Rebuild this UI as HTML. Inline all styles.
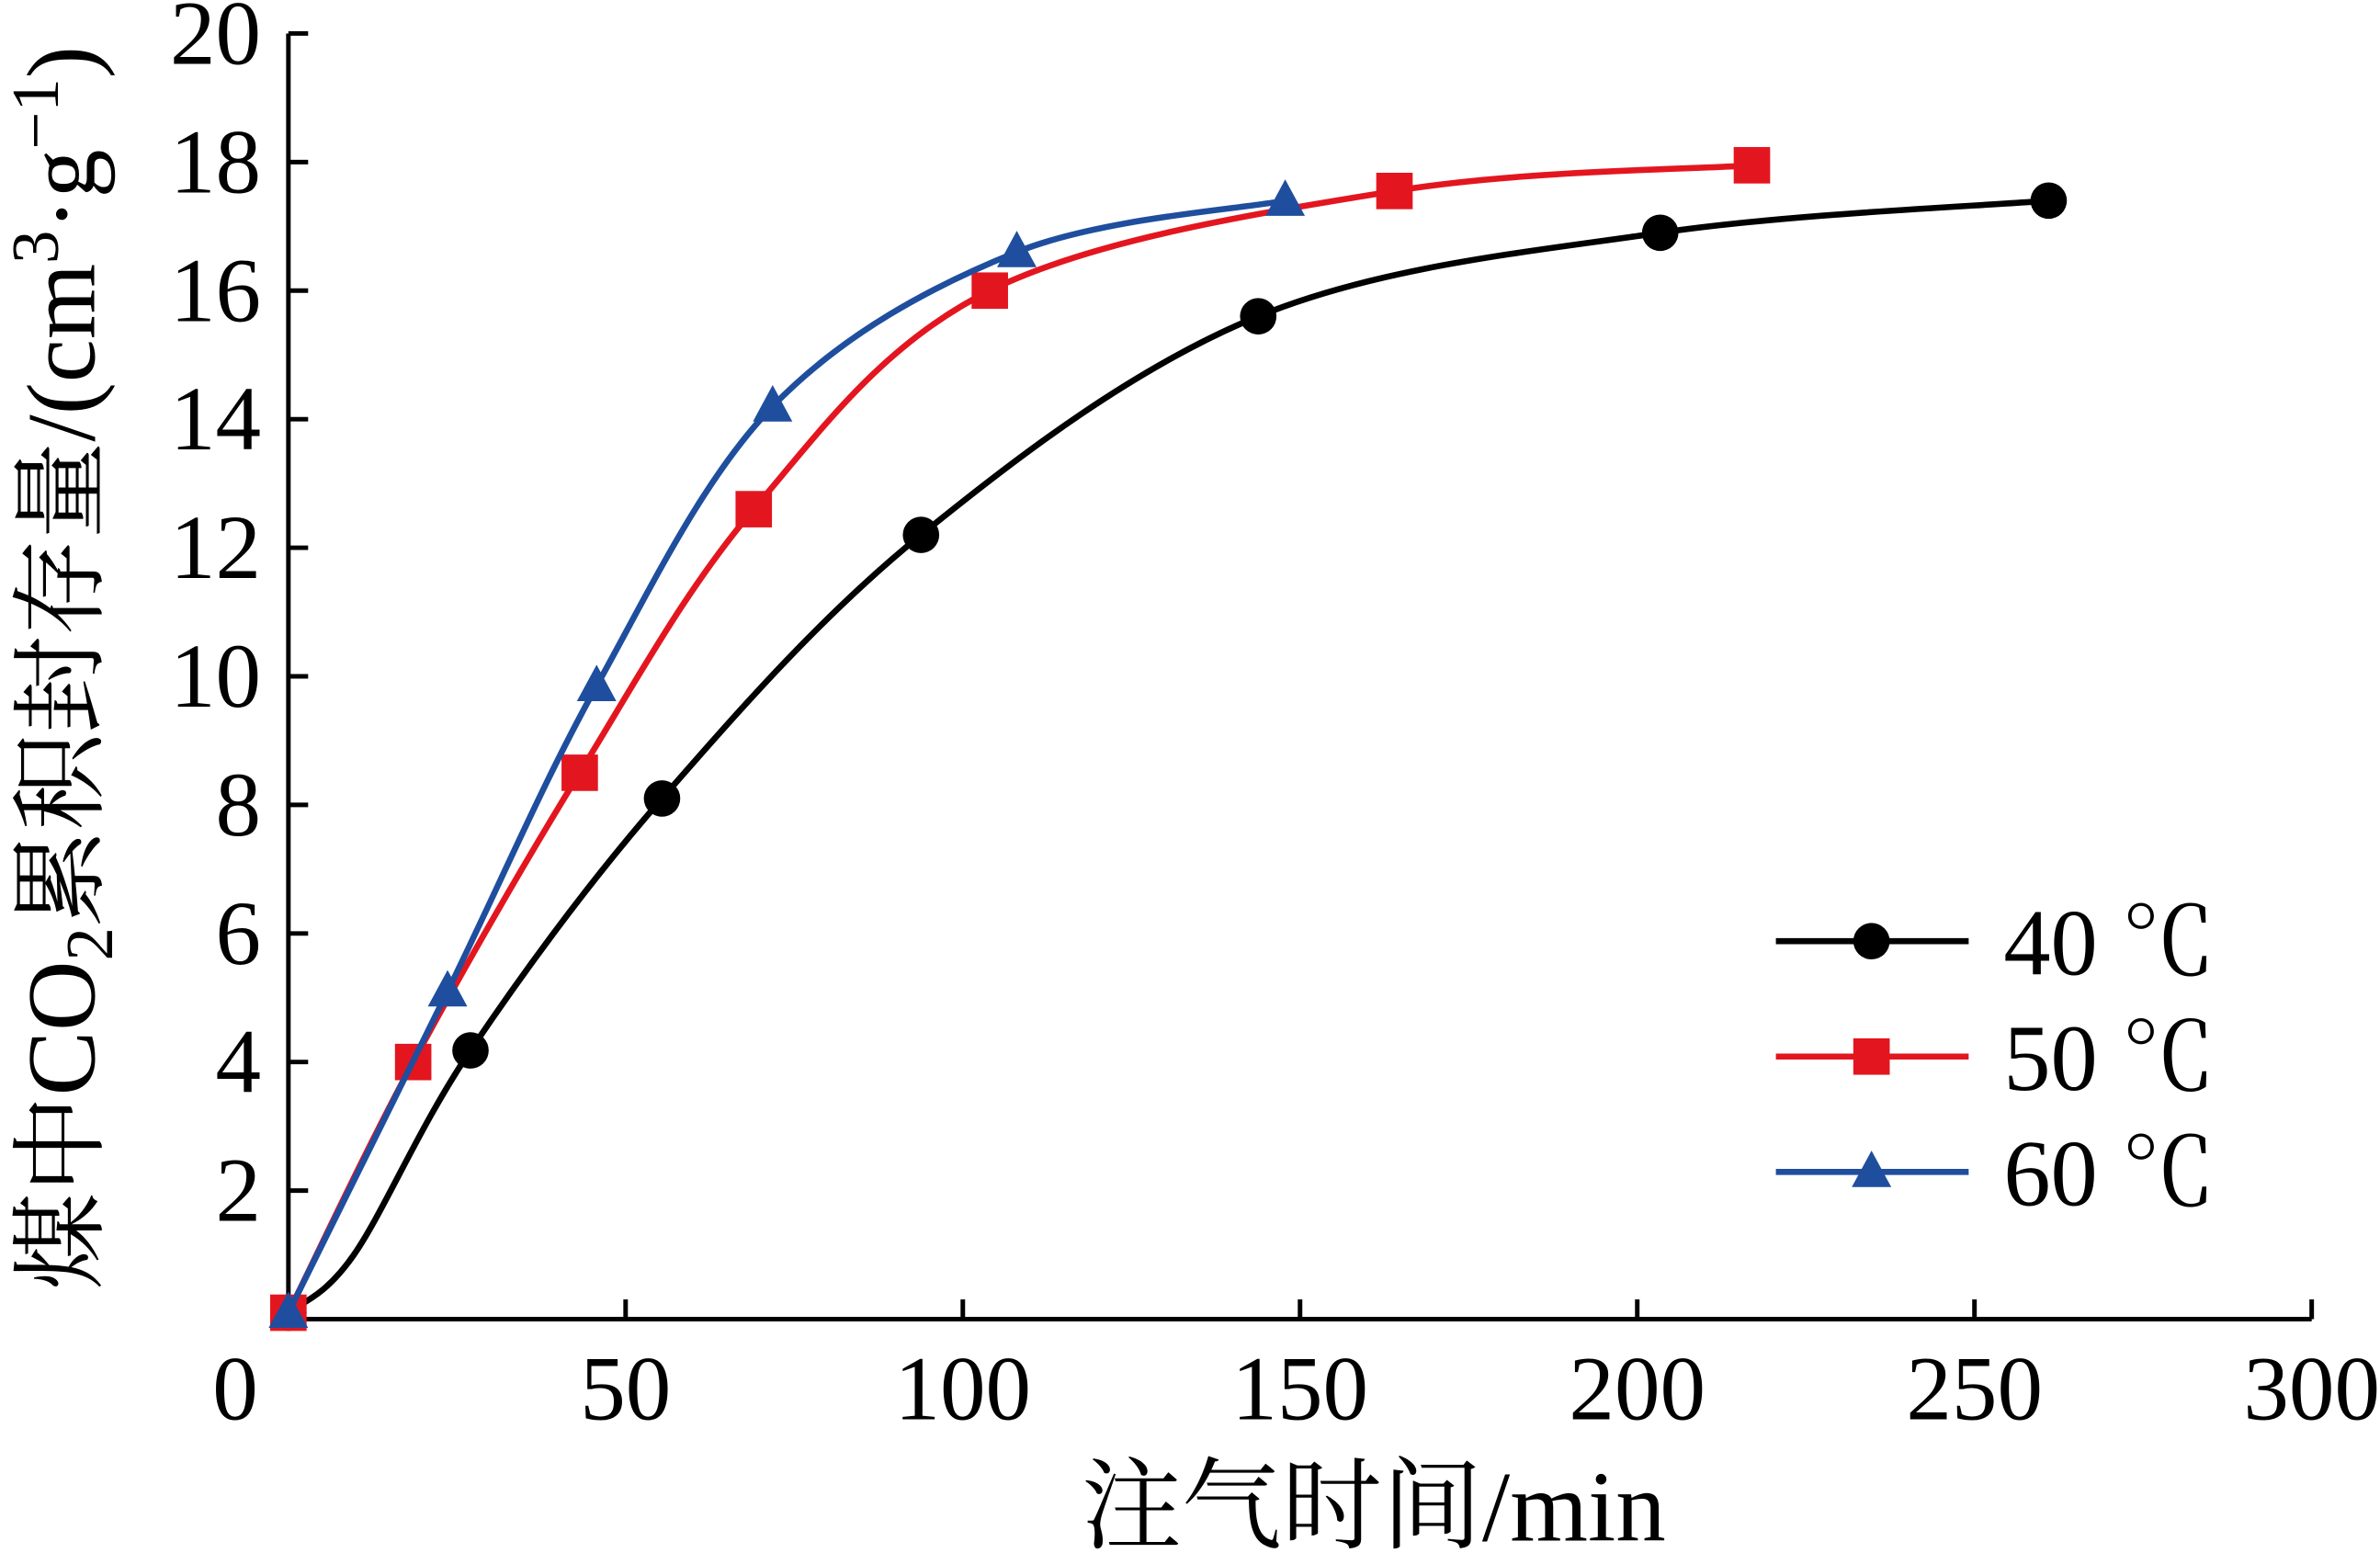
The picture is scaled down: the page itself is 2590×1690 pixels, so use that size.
<!DOCTYPE html>
<html><head><meta charset="utf-8"><style>html,body{margin:0;padding:0;background:#fff}svg{display:block}</style></head>
<body>
<svg id="chart" width="2590" height="1690" viewBox="0 0 1568 1023" xmlns="http://www.w3.org/2000/svg" font-family="'Liberation Serif','Noto Serif CJK SC',serif">
<g id="axes"></g>
<g id="series"></g>
<g id="legend"></g>
</svg>
<script>
const xTicks=[0,50,100,150,200,250,300];
const yTicks=[2,4,6,8,10,12,14,16,18,20];
const seriesNames=["40 ℃","50 ℃","60 ℃"];
const colors=["#000000","#e3161f","#1f4e9e"];
const markers=["circle","square","triangle"];
const x40=[0,9.7,27,55.4,93.8,143.8,203.4,261];
const y40=[0.1,1.0,4.18,8.1,12.2,15.6,16.9,17.4];
const m40=[0,2,3,4,5,6,7];
const x50=[0,18.5,43.2,69,104,164,217];
const y50=[0.1,4.0,8.5,12.6,16.0,17.55,17.95];
const x60=[0,23.6,45.7,71.8,108,147.8];
const y60=[0.1,5.1,9.85,14.2,16.6,17.4];
const NS="http://www.w3.org/2000/svg";
const X=v=>190+v*(1333/300), Y=v=>869-v*(847/20);
function mk(tag,attrs,parent){const e=document.createElementNS(NS,tag);for(const k in attrs)e.setAttribute(k,attrs[k]);parent.appendChild(e);return e;}
const axes=document.getElementById('axes');
let a=mk('path',{d:`M${X(0)},${Y(20)}V${Y(0)}H${X(300)}`,stroke:'#000','stroke-width':3,fill:'none'},axes);


xTicks.forEach(v=>{
 let t=mk('line',{x1:X(v),x2:X(v),y1:Y(0),y2:Y(0)-13,stroke:'#000','stroke-width':3},axes);
 
 
 let l=mk('text',{x:v===0?155:X(v),y:935,'font-size':60,'text-anchor':'middle'},axes);l.textContent=v;
 
 
});
yTicks.forEach(v=>{
 let t=mk('line',{x1:X(0),x2:X(0)+13,y1:Y(v),y2:Y(v),stroke:'#000','stroke-width':3},axes);
 
 
 let l=mk('text',{x:172,y:Y(v)+20,'font-size':60,'text-anchor':'end'},axes);l.textContent=v;
 
 
});
let xt=mk('text',{x:905,y:1015,'font-size':66,'text-anchor':'middle'},axes);xt.textContent='注气时间/min';


let yt=mk('text',{x:0,y:0,'font-size':64,'text-anchor':'middle',transform:'translate(62,440) rotate(-90)'},axes);
yt.innerHTML='煤中CO<tspan font-size="44" dy="12">2</tspan><tspan dy="-12">累积封存量/(cm</tspan><tspan font-size="44" dy="-24">3</tspan><tspan dy="24">·g</tspan><tspan font-size="44" dy="-24">−1</tspan><tspan dy="24">)</tspan>';


function smooth(xs,ys){const p=xs.map((x,i)=>[X(x),Y(ys[i])]);let d=`M${p[0][0]},${p[0][1]}`;
 for(let i=0;i<p.length-1;i++){const p0=p[i-1]||p[i],p1=p[i],p2=p[i+1],p3=p[i+2]||p2;
  const c1=[p1[0]+(p2[0]-p0[0])/6,p1[1]+(p2[1]-p0[1])/6],c2=[p2[0]-(p3[0]-p1[0])/6,p2[1]-(p3[1]-p1[1])/6];
  d+=`C${c1[0]},${c1[1]} ${c2[0]},${c2[1]} ${p2[0]},${p2[1]}`;}return d;}
function marker(type,cx,cy,col,parent){let e;
 if(type==='circle')e=mk('circle',{cx,cy,r:12,fill:col},parent);
 else if(type==='square')e=mk('rect',{x:cx-12,y:cy-12,width:24,height:24,fill:col},parent);
 else e=mk('polygon',{points:`${cx},${cy-14} ${cx-13},${cy+10} ${cx+13},${cy+10}`,fill:col},parent);
 return e;}
const ser=document.getElementById('series');
const data=[[x40,y40,m40],[x50,y50,null],[x60,y60,null]];
data.forEach((s,k)=>{
 let p=mk('path',{d:smooth(s[0],s[1]),stroke:colors[k],'stroke-width':4,fill:'none'},ser);
 
 
 const idx=s[2]||s[0].map((_,i)=>i);
 idx.forEach(i=>{let m=marker(markers[k],X(s[0][i]),Y(s[1][i]),colors[k],ser);
  
  });
});
const leg=document.getElementById('legend');
seriesNames.forEach((n,k)=>{const y=620+k*76;
 let l=mk('line',{x1:1170,x2:1297,y1:y,y2:y,stroke:colors[k],'stroke-width':4},leg);
 
 
 let m=marker(markers[k],1233,y,colors[k],leg);
 
 
 let t=mk('text',{x:1320,y:y+22,'font-size':62},leg);t.textContent=n;
 
 
});
</script>
</body></html>
